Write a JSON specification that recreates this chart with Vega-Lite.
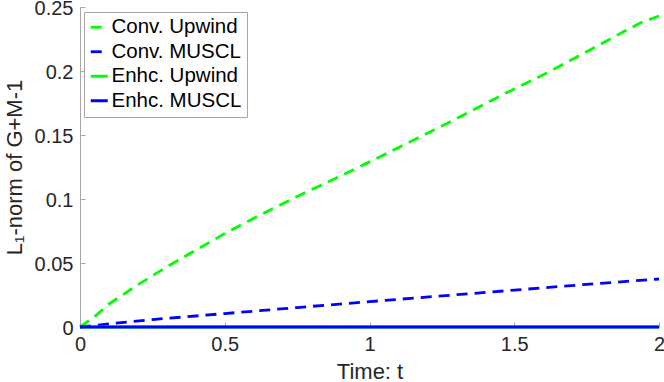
{
  "$schema": "https://vega.github.io/schema/vega-lite/v6.json",
  "width": 579,
  "height": 320,
  "autosize": "none",
  "padding": {"left": 80, "top": 7, "right": 5, "bottom": 55},
  "background": "white",
  "config": {
    "view": {"stroke": null},
    "font": "Liberation Sans",
    "axis": {
      "domainColor": "#a6a6a6",
      "tickColor": "#a6a6a6",
      "labelColor": "#262626",
      "titleColor": "#262626",
      "labelFont": "Liberation Sans",
      "titleFont": "Liberation Sans",
      "labelFontSize": 20,
      "titleFontSize": 22,
      "titleFontWeight": "normal",
      "grid": false,
      "tickSize": -5,
      "labelPadding": 12
    }
  },
  "data": {
    "values": [
      {"t": 0, "v": 0, "s": "Conv. Upwind"},
      {"t": 0.05, "v": 0.008, "s": "Conv. Upwind"},
      {"t": 0.1, "v": 0.018, "s": "Conv. Upwind"},
      {"t": 0.2, "v": 0.033, "s": "Conv. Upwind"},
      {"t": 0.3, "v": 0.047, "s": "Conv. Upwind"},
      {"t": 0.4, "v": 0.06, "s": "Conv. Upwind"},
      {"t": 0.5, "v": 0.073, "s": "Conv. Upwind"},
      {"t": 0.6, "v": 0.085, "s": "Conv. Upwind"},
      {"t": 0.75, "v": 0.102, "s": "Conv. Upwind"},
      {"t": 0.9, "v": 0.118, "s": "Conv. Upwind"},
      {"t": 1.0, "v": 0.129, "s": "Conv. Upwind"},
      {"t": 1.25, "v": 0.157, "s": "Conv. Upwind"},
      {"t": 1.5, "v": 0.186, "s": "Conv. Upwind"},
      {"t": 1.6, "v": 0.197, "s": "Conv. Upwind"},
      {"t": 1.75, "v": 0.215, "s": "Conv. Upwind"},
      {"t": 1.88, "v": 0.231, "s": "Conv. Upwind"},
      {"t": 1.94, "v": 0.238, "s": "Conv. Upwind"},
      {"t": 2.0, "v": 0.243, "s": "Conv. Upwind"},
      {"t": 0, "v": 0, "s": "Conv. MUSCL"},
      {"t": 0.1, "v": 0.0025, "s": "Conv. MUSCL"},
      {"t": 0.25, "v": 0.0058, "s": "Conv. MUSCL"},
      {"t": 0.5, "v": 0.0105, "s": "Conv. MUSCL"},
      {"t": 0.75, "v": 0.0152, "s": "Conv. MUSCL"},
      {"t": 1.0, "v": 0.0198, "s": "Conv. MUSCL"},
      {"t": 1.25, "v": 0.0243, "s": "Conv. MUSCL"},
      {"t": 1.5, "v": 0.0288, "s": "Conv. MUSCL"},
      {"t": 1.75, "v": 0.0333, "s": "Conv. MUSCL"},
      {"t": 2.0, "v": 0.0375, "s": "Conv. MUSCL"},
      {"t": 0, "v": 0, "s": "Enhc. Upwind"},
      {"t": 1, "v": 0, "s": "Enhc. Upwind"},
      {"t": 2, "v": 0, "s": "Enhc. Upwind"},
      {"t": 0, "v": 0, "s": "Enhc. MUSCL"},
      {"t": 1, "v": 0, "s": "Enhc. MUSCL"},
      {"t": 2, "v": 0, "s": "Enhc. MUSCL"}
    ]
  },
  "mark": {"type": "line", "strokeWidth": 2.8, "clip": false},
  "encoding": {
    "x": {
      "field": "t", "type": "quantitative",
      "scale": {"domain": [0, 2], "nice": false, "zero": false},
      "axis": {"values": [0, 0.5, 1, 1.5, 2], "format": "~g", "title": "Time: t", "titlePadding": 7, "labelFlush": false}
    },
    "y": {
      "field": "v", "type": "quantitative",
      "scale": {"domain": [0, 0.25], "nice": false},
      "axis": {"values": [0, 0.05, 0.1, 0.15, 0.2, 0.25], "format": "~g", "title": "L₁-norm of G+M-1", "titlePadding": 8, "labelOffset": 1.5, "labelFlush": false}
    },
    "color": {
      "field": "s", "type": "nominal",
      "scale": {
        "domain": ["Conv. Upwind", "Conv. MUSCL", "Enhc. Upwind", "Enhc. MUSCL"],
        "range": ["#00ff00", "#0000ff", "#00ff00", "#0000ff"]
      },
      "legend": {
        "title": null,
        "orient": "none",
        "legendX": 4,
        "legendY": 5,
        "fillColor": "white",
        "strokeColor": "#a6a6a6",
        "padding": 5,
        "labelFont": "Liberation Sans",
        "labelFontSize": 20.5,
        "labelColor": "#000000",
        "symbolType": "stroke",
        "symbolSize": 289,
        "symbolStrokeWidth": 2.8,
        "rowPadding": 3.5,
        "labelOffset": 2,
        "symbolOffset": 0
      }
    },
    "strokeDash": {
      "field": "s", "type": "nominal",
      "scale": {
        "domain": ["Conv. Upwind", "Conv. MUSCL", "Enhc. Upwind", "Enhc. MUSCL"],
        "range": [[11, 7], [11, 7], [1, 0], [1, 0]]
      },
      "legend": null
    }
  }
}
